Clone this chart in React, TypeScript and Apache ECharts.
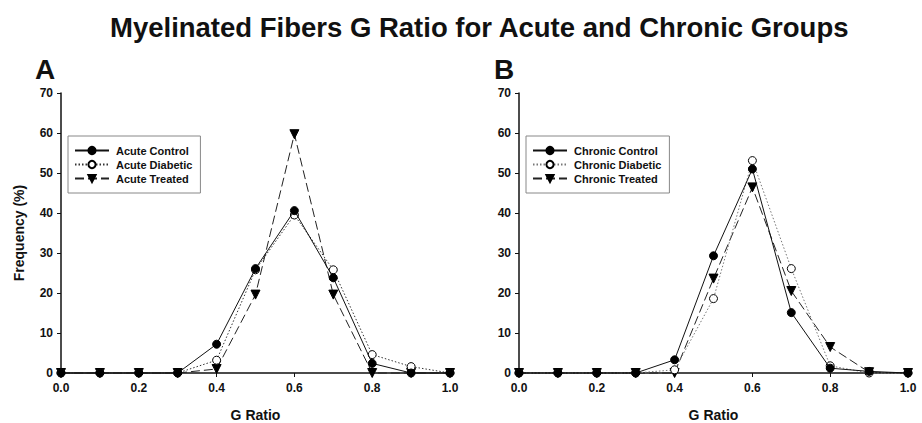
import React, { useEffect, useRef } from "react";
import * as echarts from "echarts";

const gRatio = [0.0, 0.1, 0.2, 0.3, 0.4, 0.5, 0.6, 0.7, 0.8, 0.9, 1.0];

const acuteControl = [0, 0, 0, 0, 7.2, 26.1, 40.6, 23.8, 2.4, 0, 0];
const acuteDiabetic = [0, 0, 0, 0, 3.2, 25.8, 39.5, 25.8, 4.6, 1.6, 0];
const acuteTreated = [0, 0, 0, 0, 1.0, 19.6, 59.7, 19.6, 0, 0, 0];

const chronicControl = [0, 0, 0, 0, 3.3, 29.3, 51.0, 15.1, 1.2, 0.4, 0];
const chronicDiabetic = [0, 0, 0, 0, 0.8, 18.6, 53.1, 26.1, 1.8, 0, 0];
const chronicTreated = [0, 0, 0, 0, 0, 23.6, 46.4, 20.5, 6.5, 0.2, 0];

const acuteNames = ["Acute Control", "Acute Diabetic", "Acute Treated"];
const chronicNames = ["Chronic Control", "Chronic Diabetic", "Chronic Treated"];

const yTicks = { min: 0, max: 70, interval: 10 };
const xTicks = { min: 0, max: 1, interval: 0.2 };

const FONT = "'Liberation Sans', Arial, sans-serif";

const pairs = (vals: number[]) => gRatio.map((x, i) => [x, vals[i]]);

function seriesFor(names: string[], data: number[][], idx: number, dark: boolean) {
  const styles = [
    { symbol: "circle", size: 8, fill: "#000", line: "solid" as any, color: "#111" },
    { symbol: "circle", size: 8, fill: "#fff", line: [1.5, 2] as any, color: dark ? "#333" : "#777" },
    { symbol: "triangle", size: 9, fill: "#000", line: [9, 4] as any, color: "#222" },
  ];
  return names.map((n, k) => ({
    name: n,
    type: "line",
    xAxisIndex: idx,
    yAxisIndex: idx,
    data: pairs(data[k]),
    symbol: styles[k].symbol,
    symbolSize: styles[k].size,
    symbolRotate: k === 2 ? 180 : 0,
    clip: false,
    z: 3 - k + 2,
    lineStyle: { color: styles[k].color, width: 1, type: styles[k].line },
    itemStyle: { color: styles[k].fill, borderColor: "#000", borderWidth: 1 },
  }));
}

function axisX(idx: number, withName: boolean) {
  return {
    type: "value",
    gridIndex: idx,
    min: xTicks.min,
    max: xTicks.max,
    interval: xTicks.interval,
    name: withName ? "G Ratio" : "",
    nameLocation: "middle",
    nameGap: 35,
    nameTextStyle: { fontFamily: FONT, fontWeight: "bold", fontSize: 14, color: "#111" },
    axisLine: { show: true, lineStyle: { color: "#111", width: 1.5 } },
    axisTick: { show: true, inside: false, length: 4, lineStyle: { color: "#111" } },
    axisLabel: {
      fontFamily: FONT,
      fontWeight: "bold",
      fontSize: 12,
      color: "#111",
      margin: 9,
      formatter: (v: number) => v.toFixed(1),
    },
    splitLine: { show: false },
  };
}

function axisY(idx: number, withName: boolean) {
  return {
    type: "value",
    gridIndex: idx,
    min: yTicks.min,
    max: yTicks.max,
    interval: yTicks.interval,
    name: withName ? "Frequency (%)" : "",
    nameLocation: "middle",
    nameGap: 35,
    nameTextStyle: { fontFamily: FONT, fontWeight: "bold", fontSize: 14, color: "#111" },
    axisLine: { show: true, onZero: false, lineStyle: { color: "#111", width: 1.5 } },
    axisTick: { show: true, inside: false, length: 4, lineStyle: { color: "#111" } },
    axisLabel: { fontFamily: FONT, fontWeight: "bold", fontSize: 12, color: "#111", margin: 8 },
    splitLine: { show: false },
  };
}

function legendFor(names: string[], left: number, width: number) {
  return {
    data: names.map((n) => ({ name: n })),
    orient: "vertical",
    left,
    top: 136,
    width,
    itemWidth: 34,
    itemHeight: 9,
    itemGap: 3,
    padding: [9, 8, 9, 6],
    borderColor: "#888",
    borderWidth: 1,
    backgroundColor: "#fff",
    textStyle: { fontFamily: FONT, fontWeight: "bold", fontSize: 11, color: "#111", padding: [0, 0, 0, 2] },
    selectedMode: false,
  };
}

export default function App() {
  const ref = useRef<HTMLDivElement>(null);
  useEffect(() => {
    document.body.style.margin = "0";
    const chart = echarts.init(ref.current!, null, { renderer: "svg" });
    chart.setOption({
      animation: false,
      backgroundColor: "#fff",
      title: {
        text: "Myelinated Fibers G Ratio for Acute and Chronic Groups",
        left: 105,
        top: 8,
        textStyle: { fontFamily: FONT, fontWeight: "bold", fontSize: 27.5, color: "#111" },
      },
      graphic: [
        { type: "text", x: 35, y: 69, style: { text: "A", font: `bold 28px ${FONT}`, fill: "#111", verticalAlign: "middle" } },
        { type: "text", x: 494, y: 69, style: { text: "B", font: `bold 28px ${FONT}`, fill: "#111", verticalAlign: "middle" } },
      ],
      grid: [
        { left: 61, top: 93, width: 389, height: 280, outerBoundsMode: "none", containLabel: false },
        { left: 519, top: 93, width: 389, height: 280, outerBoundsMode: "none", containLabel: false },
      ],
      xAxis: [axisX(0, true), axisX(1, true)],
      yAxis: [axisY(0, true), axisY(1, false)],
      legend: [legendFor(acuteNames, 68, 131), legendFor(chronicNames, 526, 141)],
      series: [
        ...seriesFor(acuteNames, [acuteControl, acuteDiabetic, acuteTreated], 0, true),
        ...seriesFor(chronicNames, [chronicControl, chronicDiabetic, chronicTreated], 1, false),
      ],
    });
    return () => chart.dispose();
  }, []);
  return <div ref={ref} style={{ width: 922, height: 423 }} />;
}
